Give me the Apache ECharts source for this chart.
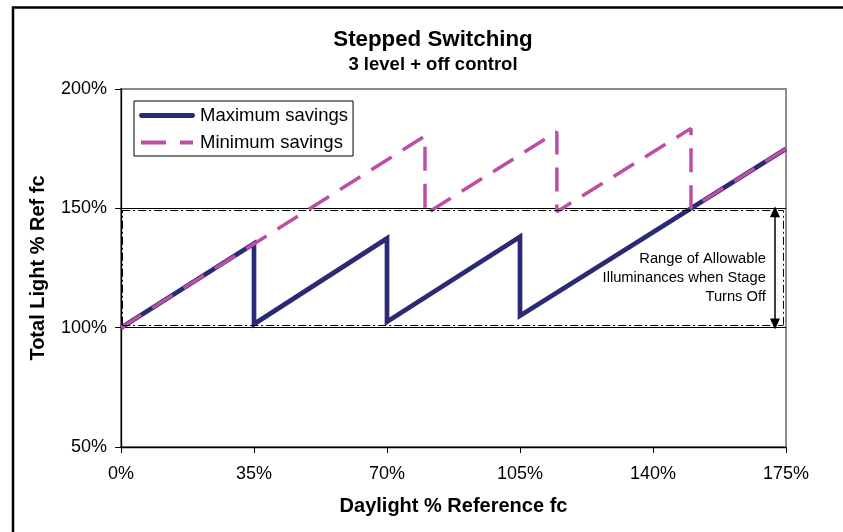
<!DOCTYPE html>
<html>
<head>
<meta charset="utf-8">
<script src="https://cdn.jsdelivr.net/npm/echarts@6/dist/echarts.min.js"></script>
<style>
html,body{margin:0;padding:0;background:#fff;}
#chart{width:843px;height:532px;}
</style>
</head>
<body>
<div id="chart"></div>
<script>
// ---- data ----
var seriesNames = ['Maximum savings', 'Minimum savings'];
var maxSavingsX = [0, 35, 35, 70, 70, 105, 105, 175];
var maxSavingsY = [100, 135.3, 101.5, 137.4, 102.5, 138.1, 105, 175];
var minSavingsX = [0, 80, 80, 114.7, 114.7, 150, 150, 175];
var minSavingsY = [100, 180.3, 147.5, 182.1, 148.6, 183.5, 150, 175];
var xTicks = [0, 35, 70, 105, 140, 175];
var yTicks = [50, 100, 150, 200];
// allowable range annotation (data units)
var rangeBounds = { left: 0.3, right: 174.3, top: 149, bottom: 101.2 };
var arrowX = 172.1;
var arrowEnds = [148.6, 101.5];
var noteText = ['Range of Allowable', 'Illuminances when Stage', 'Turns Off'];
var notePos = [169.7, 120.8];

function pairs(xs, ys) { return xs.map(function (x, i) { return [x, ys[i]]; }); }

var chart = echarts.init(document.getElementById('chart'));
var font = 'Liberation Sans, Arial, Helvetica, sans-serif';
var dashDot = [8, 3, 2, 3];
var rb = rangeBounds;
var maxColor = '#2b2a74';
var minColor = '#bb4fa6';

var option = {
  animation: false,
  backgroundColor: '#fff',
  textStyle: { fontFamily: font },
  title: {
    text: 'Stepped Switching',
    subtext: '3 level + off control',
    left: 428, top: 23, textAlign: 'center', itemGap: 3,
    textStyle: { fontFamily: font, fontSize: 22.3, fontWeight: 'bold', color: '#000', lineHeight: 24 },
    subtextStyle: { fontFamily: font, fontSize: 18.5, fontWeight: 'bold', color: '#000', lineHeight: 20 }
  },
  legend: {
    data: [
      { name: seriesNames[0], icon: 'path://M2,0H54A2.5,2.5,0,0,1,54,5H2A2.5,2.5,0,0,1,2,0Z', itemStyle: { color: maxColor } },
      { name: seriesNames[1], icon: 'path://M0,0H0.01V0.01H0Z M2,0H27V4H2Z M41,0H54V4H41Z M55.99,0H56V0.01H55.99Z', itemStyle: { color: minColor } }
    ],
    orient: 'vertical', left: 134, top: 101,
    selectedMode: false,
    itemWidth: 56, itemHeight: 20, itemGap: 8, itemTextGap: 1,
    padding: [5, 5, 4, 5],
    borderColor: '#000', borderWidth: 1,
    textStyle: { fontFamily: font, fontSize: 18.5, color: '#000' }
  },
  grid: {
    left: 121, right: 57, top: 89, bottom: 85,
    show: true, borderColor: '#8c8c8c', borderWidth: 2, backgroundColor: '#fff'
  },
  xAxis: {
    type: 'value', min: xTicks[0], max: xTicks[xTicks.length - 1], interval: 35,
    name: 'Daylight % Reference fc', nameLocation: 'middle', nameGap: 49,
    nameTextStyle: { fontFamily: font, fontSize: 20, fontWeight: 'bold', color: '#000' },
    axisLine: { show: true, lineStyle: { color: '#000', width: 1.3 } },
    axisTick: { show: true, inside: false, length: 6, lineStyle: { color: '#000' } },
    axisLabel: { formatter: '{value}%', fontFamily: font, fontSize: 18, color: '#000', margin: 18 },
    splitLine: { show: false }
  },
  yAxis: {
    type: 'value', min: yTicks[0], max: yTicks[yTicks.length - 1], interval: 50,
    name: 'Total Light % Ref fc', nameLocation: 'middle', nameGap: 73,
    nameTextStyle: { fontFamily: font, fontSize: 20, fontWeight: 'bold', color: '#000' },
    axisLine: { show: true, lineStyle: { color: '#000', width: 1.3 } },
    axisTick: { show: true, inside: false, length: 6, lineStyle: { color: '#000' } },
    axisLabel: { formatter: '{value}%', fontFamily: font, fontSize: 18, color: '#000', margin: 14 },
    splitLine: { show: true, showMinLine: false, showMaxLine: false, lineStyle: { color: '#000', width: 1 } }
  },
  series: [
    {
      name: seriesNames[1], type: 'line', data: pairs(minSavingsX, minSavingsY),
      showSymbol: false, symbol: 'none', z: 3,
      lineStyle: { color: minColor, width: 3.5, type: [24, 13] },
      itemStyle: { color: minColor }
    },
    {
      name: seriesNames[0], type: 'line', data: pairs(maxSavingsX, maxSavingsY),
      showSymbol: false, symbol: 'none', z: 2,
      lineStyle: { color: maxColor, width: 4.7, join: 'miter' },
      itemStyle: { color: maxColor }
    },
    {
      name: 'annotation', type: 'line', data: [], z: 1,
      markLine: {
        silent: true, symbol: 'none', animation: false,
        label: { show: false },
        lineStyle: { color: '#000', width: 1, type: dashDot },
        data: [
          [{ coord: [rb.left, rb.top] }, { coord: [rb.right, rb.top] }],
          [{ coord: [rb.left, rb.bottom] }, { coord: [rb.right, rb.bottom] }],
          [{ coord: [rb.left, rb.bottom] }, { coord: [rb.left, rb.top] }],
          [{ coord: [rb.right, rb.bottom] }, { coord: [rb.right, rb.top] }],
          [{ coord: [arrowX, arrowEnds[0]], symbol: 'triangle', symbolSize: [10, 11],
             lineStyle: { type: 'solid', width: 1.5 } },
           { coord: [arrowX, arrowEnds[1]], symbol: 'triangle', symbolSize: [10, 11],
             lineStyle: { type: 'solid', width: 1.5 } }]
        ]
      }
    }
  ]
};
chart.setOption(option);

var p = chart.convertToPixel({ gridIndex: 0 }, notePos);
chart.setOption({
  graphic: [
    {
      type: 'text', x: p[0], y: p[1], z: 10,
      style: {
        text: noteText.join('\n'), align: 'right', verticalAlign: 'middle',
        font: '14.7px ' + font, fill: '#000', lineHeight: 19
      }
    },
    {
      type: 'polyline', z: 10, silent: true,
      shape: { points: [[13, 540], [13, 7.5], [850, 7.5]] },
      style: { stroke: '#000', lineWidth: 2.5, fill: null }
    }
  ]
});
</script>
</body>
</html>
